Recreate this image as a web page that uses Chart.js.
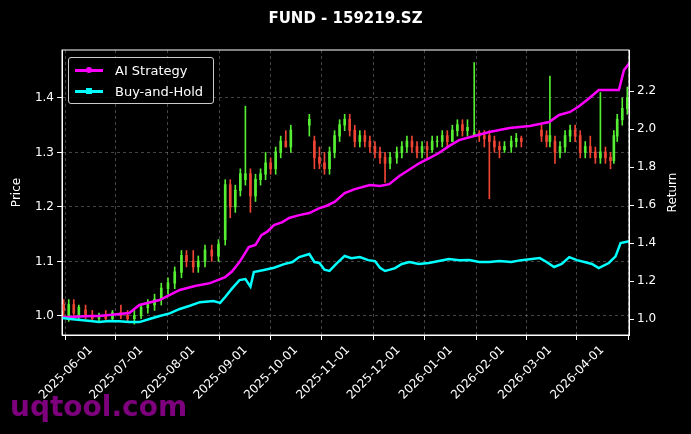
<!DOCTYPE html>
<html><head><meta charset="utf-8">
<script src="https://cdn.jsdelivr.net/npm/chart.js@4.4.1/dist/chart.umd.min.js"></script>
<style>
html,body{margin:0;padding:0;background:#000;width:691px;height:434px;overflow:hidden;font-family:"DejaVu Sans",sans-serif}
#wrap{position:relative;width:691px;height:434px}
#title{position:absolute;top:9px;left:0;width:691px;text-align:center;color:#fff;font-weight:bold;font-size:15px}
#legend{position:absolute;left:68px;top:57px;width:144px;height:45px;border:1px solid #ccc;border-radius:3px;background:rgba(0,0,0,0.8);color:#fff;font-size:13px}
.li{position:absolute;left:6px;height:16px;display:flex;align-items:center}
.ln{width:28px;height:3px;position:relative;margin-right:12px}
.ln i{position:absolute;left:11px;top:-2px;width:6px;height:6px;border-radius:50%}
#wm{position:absolute;left:10px;top:390px;color:#8b008b;font-weight:bold;font-size:28px;opacity:0.9}
</style></head><body>
<div id="wrap">
<canvas id="c" width="691" height="434"></canvas>
<div id="title">FUND - 159219.SZ</div>
<div id="legend">
<div class="li" style="top:4px"><div class="ln" style="background:#ff00ff"><i style="background:#ff00ff"></i></div>AI Strategy</div>
<div class="li" style="top:25px"><div class="ln" style="background:#00ffff"><i style="background:#00ffff;border-radius:0"></i></div>Buy-and-Hold</div>
</div>
<div id="wm">uqtool.com</div>
</div>
<script>
// day offsets from 2025-06-01
const tickDays = [0,30,61,92,122,153,183,214,245,273,304];
const tickLabels = ['2025-06-01','2025-07-01','2025-08-01','2025-09-01','2025-10-01','2025-11-01','2025-12-01','2026-01-01','2026-02-01','2026-03-01','2026-04-01'];
const candleDays = [-16,-13,-10,-7,-3,1,5,9,13,18,22,26,30,34,38,42,46,50,54,57,61,64,68,72,76,80,83,86,89,92,95,98,101,104,107,110,113,116,119,130,133,136,139,142,145,148,151,154,157,160,163,166,169,172,175,178,182,185,188,191,194,197,200,203,206,209,212,215,218,221,224,228,231,234,237,240,243,246,250,253,256,268,271,273,276,279,282,285,288,291,294,297,300,303,306,309,311,313,316,319];
const opens =  [1.02,1.00,1.02,1.00,1.01,1.0,0.995,1.0,0.995,1.005,1.0,0.995,1.0,1.015,1.02,1.03,1.05,1.06,1.08,1.11,1.10,1.09,1.10,1.12,1.11,1.14,1.24,1.20,1.23,1.25,1.26,1.22,1.25,1.26,1.28,1.27,1.30,1.32,1.31,1.35,1.32,1.29,1.28,1.27,1.30,1.33,1.35,1.36,1.34,1.32,1.33,1.32,1.31,1.30,1.29,1.28,1.29,1.30,1.31,1.32,1.31,1.30,1.31,1.305,1.32,1.32,1.33,1.32,1.34,1.35,1.34,1.33,1.335,1.33,1.33,1.32,1.31,1.305,1.31,1.32,1.325,1.34,1.33,1.32,1.32,1.30,1.31,1.33,1.34,1.33,1.30,1.31,1.30,1.29,1.30,1.29,1.285,1.33,1.36,1.38];
const highs =  [1.03,1.03,1.03,1.02,1.02,1.01,1.005,1.01,1.01,1.02,1.01,1.01,1.02,1.03,1.04,1.06,1.07,1.09,1.12,1.12,1.12,1.11,1.13,1.13,1.14,1.25,1.25,1.24,1.27,1.385,1.27,1.26,1.27,1.30,1.29,1.31,1.33,1.34,1.35,1.37,1.33,1.31,1.30,1.31,1.34,1.36,1.37,1.37,1.35,1.34,1.34,1.33,1.32,1.31,1.30,1.30,1.31,1.32,1.33,1.33,1.32,1.32,1.32,1.33,1.33,1.34,1.34,1.35,1.36,1.36,1.36,1.465,1.34,1.34,1.34,1.33,1.32,1.32,1.33,1.335,1.33,1.35,1.34,1.44,1.33,1.32,1.34,1.35,1.35,1.34,1.32,1.33,1.31,1.41,1.31,1.30,1.34,1.37,1.40,1.42];
const lows =   [1.00,0.99,1.00,0.995,0.995,0.99,0.99,0.99,0.99,0.995,0.99,0.985,0.995,1.005,1.01,1.02,1.04,1.05,1.07,1.09,1.08,1.08,1.09,1.10,1.10,1.13,1.18,1.19,1.22,1.24,1.19,1.21,1.24,1.25,1.26,1.26,1.29,1.31,1.30,1.33,1.27,1.27,1.26,1.26,1.29,1.32,1.34,1.33,1.31,1.31,1.31,1.30,1.29,1.28,1.245,1.27,1.28,1.29,1.30,1.30,1.29,1.29,1.29,1.30,1.31,1.31,1.31,1.32,1.33,1.33,1.33,1.33,1.32,1.31,1.215,1.30,1.29,1.30,1.30,1.31,1.31,1.32,1.31,1.31,1.28,1.29,1.30,1.32,1.32,1.29,1.29,1.29,1.28,1.28,1.28,1.27,1.28,1.32,1.35,1.37];
const closes = [1.01,1.02,1.005,1.015,1.0,0.995,1.0,0.995,1.005,1.0,0.995,1.0,1.015,1.02,1.03,1.05,1.06,1.08,1.11,1.10,1.09,1.10,1.12,1.11,1.13,1.24,1.20,1.23,1.26,1.26,1.22,1.25,1.26,1.28,1.27,1.30,1.32,1.31,1.34,1.36,1.29,1.28,1.27,1.30,1.33,1.35,1.36,1.34,1.32,1.33,1.32,1.31,1.30,1.29,1.28,1.29,1.30,1.31,1.32,1.31,1.30,1.31,1.305,1.32,1.32,1.33,1.32,1.34,1.35,1.34,1.345,1.335,1.33,1.325,1.32,1.31,1.305,1.31,1.32,1.325,1.32,1.33,1.32,1.33,1.30,1.31,1.33,1.34,1.33,1.30,1.31,1.30,1.29,1.30,1.29,1.285,1.33,1.36,1.38,1.40];
const aiDays = [-17,0.6,5,23,29,41,53,62,71,80,84,88.5,94,98,101.5,105,109,114,118,124,130,136,140,145,151,157,166,172,177.5,183.5,190,195.5,201,207,213,219,228,237,249,261,272.5,278.5,285,290.5,296.5,302,314,317,320.5];
const aiRet  = [1.01,1.016,1.016,1.032,1.074,1.1,1.153,1.174,1.189,1.221,1.25,1.3,1.379,1.39,1.442,1.46,1.495,1.51,1.532,1.547,1.558,1.584,1.595,1.616,1.663,1.684,1.705,1.70,1.71,1.753,1.79,1.821,1.845,1.874,1.91,1.942,1.963,1.984,2.005,2.016,2.037,2.074,2.09,2.121,2.163,2.205,2.205,2.31,2.35];
const bhDays = [-17,-12,-6,0,5,11,17,23,29,35,41,47,53,59,65,73,77,80,84,88.5,92,95,97,103,109,115,120,124,130,133,136,139,142,146,151,155,160,165,169,172,175,178,181,185,189.5,195,201,207,213,219,225,231,237,243,250,256,267,271,275.5,280,284.5,289,293.5,298,302,308,312,315,320.5];
const bhRet  = [1.005,1.0,0.995,0.99,0.984,0.99,0.989,0.985,0.984,1.0,1.016,1.03,1.053,1.07,1.089,1.095,1.085,1.116,1.16,1.205,1.21,1.17,1.247,1.258,1.27,1.289,1.30,1.326,1.342,1.30,1.295,1.26,1.253,1.29,1.332,1.32,1.326,1.31,1.305,1.27,1.253,1.26,1.268,1.29,1.3,1.29,1.295,1.305,1.316,1.31,1.311,1.30,1.3,1.305,1.30,1.31,1.321,1.30,1.274,1.29,1.326,1.31,1.3,1.29,1.268,1.295,1.33,1.4,1.41];

const up='#55ee33', dn='#ee4433';
const col = ctx => { const i=ctx.dataIndex; return closes[i]>=opens[i]?up:dn; };
const wick = candleDays.map((d,i)=>({x:d,y:[lows[i],highs[i]]}));
const body = candleDays.map((d,i)=>({x:d,y:[Math.min(opens[i],closes[i]),Math.max(opens[i],closes[i])+0.001]}));
const frame = {id:'frame',afterDraw(c){const a=c.chartArea,g=c.ctx;g.save();g.strokeStyle='#fff';g.lineWidth=1;g.strokeRect(a.left,a.top,a.right-a.left,a.bottom-a.top);
 g.fillStyle='#fff';g.font='12px "DejaVu Sans"';g.textAlign='center';g.textBaseline='middle';
 g.translate(673,(a.top+a.bottom)/2);g.rotate(-Math.PI/2);g.fillText('Return',0,0);g.restore();}};
new Chart(document.getElementById('c'),{
 data:{datasets:[
  {type:'bar',data:wick,yAxisID:'y',backgroundColor:col,barThickness:1,grouped:false,order:3},
  {type:'bar',data:body,yAxisID:'y',backgroundColor:col,barThickness:2,grouped:false,order:2},
  {type:'line',data:aiDays.map((d,i)=>({x:d,y:aiRet[i]})),yAxisID:'y2',borderColor:'#ff00ff',borderWidth:2.5,pointRadius:0,tension:0,order:1},
  {type:'line',data:bhDays.map((d,i)=>({x:d,y:bhRet[i]})),yAxisID:'y2',borderColor:'#00ffff',borderWidth:2.5,pointRadius:0,tension:0,order:0}
 ]},
 options:{responsive:false,animation:false,events:[],
  layout:{padding:{top:50}},
  plugins:{legend:{display:false},tooltip:{enabled:false}},
  scales:{
   x:{type:'linear',min:-17,max:320,offset:false,
     afterBuildTicks(s){s.ticks=tickDays.map(v=>({value:v}));},
     afterFit(s){s.height=99;},
     ticks:{color:'#fff',font:{size:12,family:'DejaVu Sans'},maxRotation:45,minRotation:45,autoSkip:false,callback:(v)=>tickLabels[tickDays.indexOf(v)]},
     grid:{color:'rgba(150,150,150,0.45)',tickColor:'#fff',tickLength:5},border:{color:'#fff',dash:[3,3]}},
   y:{position:'left',min:0.965,max:1.488,
     afterBuildTicks(s){s.ticks=[1.0,1.1,1.2,1.3,1.4].map(v=>({value:v}));},
     afterFit(s){s.width=62;},
     ticks:{color:'#fff',font:{size:12,family:'DejaVu Sans'},callback:v=>v.toFixed(1)},
     title:{display:true,text:'Price',color:'#fff',font:{size:12,family:'DejaVu Sans'},padding:{top:10,bottom:0}},
     grid:{color:'rgba(150,150,150,0.45)',tickColor:'#fff',tickLength:5},border:{color:'#fff',dash:[3,3]}},
   y2:{position:'right',min:0.916,max:2.416,
     afterBuildTicks(s){s.ticks=[1.0,1.2,1.4,1.6,1.8,2.0,2.2].map(v=>({value:v}));},
     afterFit(s){s.width=62;},
     ticks:{color:'#fff',font:{size:12,family:'DejaVu Sans'},callback:v=>v.toFixed(1)},
     grid:{drawOnChartArea:false,tickColor:'#fff',tickLength:5},border:{color:'#fff'}}
  }},
 plugins:[frame]
});
</script></body></html>
